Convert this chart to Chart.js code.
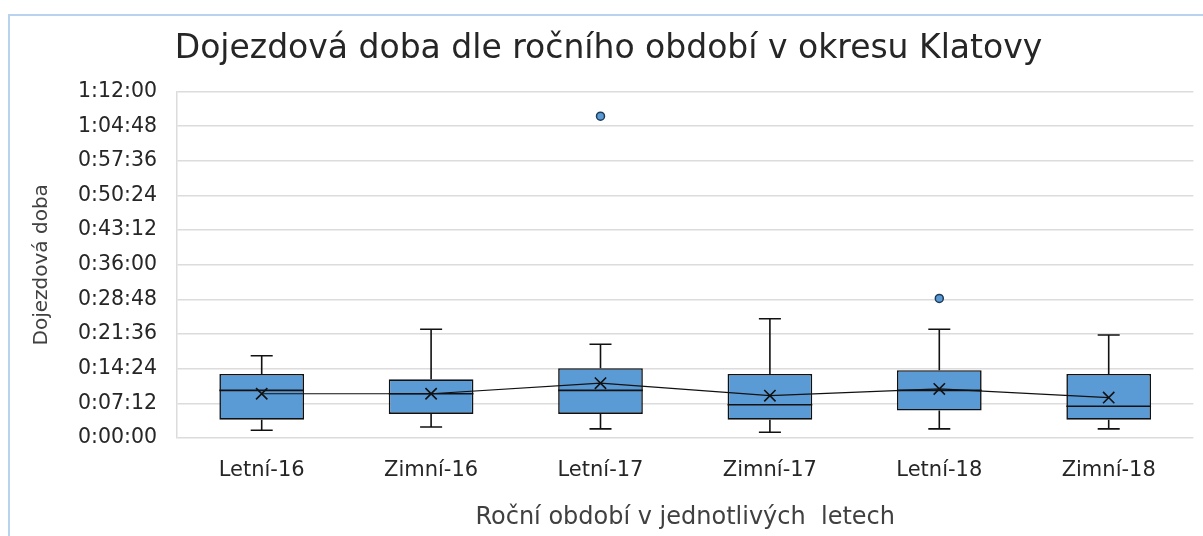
<!DOCTYPE html>
<html lang="cs">
<head>
<meta charset="utf-8">
<title>Dojezdová doba dle ročního období v okresu Klatovy</title>
<script src="https://cdn.jsdelivr.net/npm/chart.js@4.4.1/dist/chart.umd.min.js"></script>
<style>
  html, body { margin: 0; padding: 0; background: #fff; overflow: hidden; }
  #frame {
    position: absolute; left: 8px; top: 14px; width: 1300px; height: 600px;
    border-left: 2px solid #b9d3ee; border-top: 2px solid #b9d3ee;
  }
  #wrap { position: absolute; left: 0; top: 0; width: 1203px; height: 536px; }
</style>
</head>
<body>
<div id="frame"></div>
<div id="wrap"><canvas id="boxChart"></canvas></div>
<script>
// hodnoty v minutách
const labels = ['Letní-16', 'Zimní-16', 'Letní-17', 'Zimní-17', 'Letní-18', 'Zimní-18'];
const whiskerLow = [1.6, 2.3, 1.9, 1.2, 1.9, 1.9];
const q1 = [3.8, 5.0, 5.0, 3.8, 5.7, 3.8];
const median = [9.9, 9.2, 9.9, 6.9, 9.9, 6.6];
const q3 = [13.3, 12.2, 14.5, 13.3, 14.1, 13.3];
const whiskerHigh = [17.1, 22.6, 19.5, 24.8, 22.6, 21.4];
const mean = [9.2, 9.2, 11.4, 8.8, 10.2, 8.4];
const outliers = [null, null, 66.9, null, 29.0, null];

const yMax = 72;
const yStep = 7.2;

const FONT = "'DejaVu Sans', 'Noto Sans', sans-serif";

function formatTime(minutes) {
    const total = Math.round(minutes * 60);
    const h = Math.floor(total / 3600);
    const m = Math.floor((total % 3600) / 60);
    const s = total % 60;
    return `${h}:${String(m).padStart(2, '0')}:${String(s).padStart(2, '0')}`;
}

// medián a vousy kreslené přes škály grafu
const boxExtras = {
    id: 'boxExtras',
    afterDatasetDraw(chart, args) {
        if (args.index !== 2) return;
        const ctx = chart.ctx;
        const y = chart.scales.y;
        args.meta.data.forEach((bar, i) => {
            const half = bar.width / 2;
            const capHalf = bar.width * 0.13;
            ctx.save();
            ctx.strokeStyle = '#111';
            ctx.lineWidth = 1.6;
            ctx.beginPath();
            // median
            ctx.moveTo(bar.x - half, y.getPixelForValue(median[i]));
            ctx.lineTo(bar.x + half, y.getPixelForValue(median[i]));
            // horní vous
            ctx.moveTo(bar.x, y.getPixelForValue(q3[i]));
            ctx.lineTo(bar.x, y.getPixelForValue(whiskerHigh[i]));
            ctx.moveTo(bar.x - capHalf, y.getPixelForValue(whiskerHigh[i]));
            ctx.lineTo(bar.x + capHalf, y.getPixelForValue(whiskerHigh[i]));
            // dolní vous
            ctx.moveTo(bar.x, y.getPixelForValue(q1[i]));
            ctx.lineTo(bar.x, y.getPixelForValue(whiskerLow[i]));
            ctx.moveTo(bar.x - capHalf, y.getPixelForValue(whiskerLow[i]));
            ctx.lineTo(bar.x + capHalf, y.getPixelForValue(whiskerLow[i]));
            ctx.stroke();
            ctx.restore();
        });
    }
};

const ctx = document.getElementById('boxChart').getContext('2d');
new Chart(ctx, {
    data: {
        labels: labels,
        datasets: [
            {
                type: 'line',
                label: 'Průměr',
                data: mean,
                borderColor: '#111',
                borderWidth: 1.2,
                pointStyle: 'crossRot',
                pointRadius: 8,
                pointBorderWidth: 1.6,
                pointBorderColor: '#111',
                tension: 0
            },
            {
                type: 'line',
                label: 'Odlehlé hodnoty',
                data: outliers,
                showLine: false,
                pointRadius: 4,
                pointBackgroundColor: '#5b9bd5',
                pointBorderColor: '#1f3b5a',
                pointBorderWidth: 1.5
            },
            {
                type: 'bar',
                label: 'Kvartily',
                data: q1.map((v, i) => [v, q3[i]]),
                backgroundColor: '#5b9bd5',
                borderColor: '#111',
                borderWidth: 1.6,
                borderSkipped: false,
                categoryPercentage: 1,
                barPercentage: 0.5
            }
        ]
    },
    options: {
        responsive: true,
        maintainAspectRatio: false,
        animation: false,
        layout: { padding: { left: 20, right: 6, top: 0, bottom: 0 } },
        scales: {
            x: {
                grid: { display: false, drawTicks: false },
                border: { display: false },
                ticks: { color: '#262626', font: { family: FONT, size: 21 }, padding: 20 },
                title: {
                    display: true,
                    text: 'Roční období v jednotlivých  letech',
                    color: '#404040',
                    font: { family: FONT, size: 24 },
                    padding: { top: 0, bottom: 4 }
                },
                afterFit: (scale) => { scale.height = 98; }
            },
            y: {
                min: 0,
                max: yMax,
                grid: { color: '#dcdcdc', lineWidth: 1.5, drawTicks: false },
                border: { display: true, color: '#dcdcdc', width: 1.5 },
                ticks: {
                    stepSize: yStep,
                    color: '#262626',
                    font: { family: FONT, size: 20.5 },
                    padding: 20,
                    callback: (value) => formatTime(value)
                },
                title: {
                    display: true,
                    text: 'Dojezdová doba',
                    color: '#404040',
                    font: { family: FONT, size: 20 },
                    padding: { top: 10, bottom: 0 }
                },
                afterFit: (scale) => { scale.width = 157; }
            }
        },
        plugins: {
            legend: { display: false },
            tooltip: { enabled: false },
            title: {
                display: true,
                text: 'Dojezdová doba dle ročního období v okresu Klatovy',
                color: '#262626',
                font: { family: FONT, size: 33, weight: 'normal' },
                padding: { top: 30, bottom: 22 }
            }
        }
    },
    plugins: [boxExtras]
});
</script>
</body>
</html>
